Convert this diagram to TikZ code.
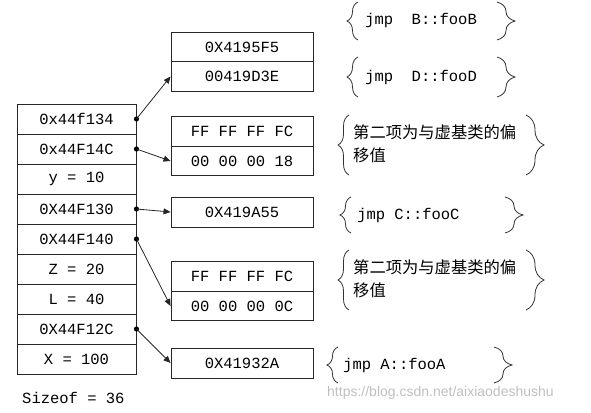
\documentclass[tikz,border=0pt]{standalone}
\usepackage{fontspec}
\setmonofont{Liberation Mono}
\newfontfamily\cjk{Noto Sans CJK SC}
\usetikzlibrary{arrows.meta,decorations.pathreplacing}
\tikzset{
  cellL/.style={draw=black!85, line width=0.9pt, minimum width=119pt, minimum height=30pt, inner sep=0pt, font=\ttfamily\fontsize{15.5}{18}\selectfont},
  cellR/.style={draw=black!85, line width=0.9pt, minimum width=142pt, minimum height=29.5pt, inner sep=0pt, font=\ttfamily\fontsize{15.5}{18}\selectfont},
  note/.style={inner sep=0pt, anchor=west, font=\ttfamily\fontsize{15.5}{18}\selectfont},
  cjknote/.style={inner sep=0pt, anchor=west, align=left, font=\cjk\fontsize{16.3}{23}\selectfont},
  ptr/.style={draw=black!85, line width=0.8pt, -{Triangle[length=7pt,width=6pt]}},
  lbrace/.style={draw=black!80, line width=0.8pt, decorate, decoration={brace, amplitude=11pt}},
  rbrace/.style={draw=black!80, line width=0.8pt, decorate, decoration={brace, amplitude=18pt}}
}
\begin{document}
\begin{tikzpicture}[x=1pt,y=-1pt]
\useasboundingbox (0,0) rectangle (591,412);
% left stack
\node[cellL] (s1) at (76.5,119) {0x44f134};
\node[cellL] (s2) at (76.5,149) {0x44F14C};
\node[cellL] (s3) at (76.5,179) {y = 10};
\node[cellL] (s4) at (76.5,209) {0X44F130};
\node[cellL] (s5) at (76.5,239) {0X44F140};
\node[cellL] (s6) at (76.5,269) {Z = 20};
\node[cellL] (s7) at (76.5,299) {L = 40};
\node[cellL] (s8) at (76.5,329) {0X44F12C};
\node[cellL] (s9) at (76.5,359) {X = 100};
\node[note] (size) at (22,398) {Sizeof = 36};
% right boxes
\node[cellR] (a1) at (242,47) {0X4195F5};
\node[cellR] (a2) at (242,76.5) {00419D3E};
\node[cellR] (b1) at (242,131.5) {FF FF FF FC};
\node[cellR] (b2) at (242,161) {00 00 00 18};
\node[cellR, minimum height=30pt] (c1) at (242,212) {0X419A55};
\node[cellR] (d1) at (242,276.5) {FF FF FF FC};
\node[cellR] (d2) at (242,306) {00 00 00 0C};
\node[cellR, minimum height=30pt] (e1) at (242,363) {0X41932A};
% pointers
\foreach \s in {s1,s2,s4,s5,s8} \fill[black] (\s.east) circle (2.6pt);
\draw[ptr] (s1.east) -- (a2.west);
\draw[ptr] (s2.east) -- (b2.west);
\draw[ptr] (s4.east) -- (c1.west);
\draw[ptr] (s5.east) -- (d2.west);
\draw[ptr] (s8.east) -- (e1.west);
% notes
\node[note] (n1) at (365,20) {jmp\ \ B::fooB};
\node[note] (n2) at (365,77) {jmp\ \ D::fooD};
\node[cjknote] (n3) at (353,143.5) {第二项为与虚基类的偏\\移值};
\node[note] (n4) at (357,215) {jmp C::fooC};
\node[cjknote] (n5) at (353,279) {第二项为与虚基类的偏\\移值};
\node[note] (n6) at (343,365) {jmp A::fooA};
% braces
\draw[lbrace] (358,40) -- (358,2);
\draw[rbrace] (497,2) -- (497,40);
\draw[lbrace] (358,97) -- (358,57);
\draw[rbrace] (497,57) -- (497,97);
\draw[lbrace] (349,175) -- (349,115);
\draw[rbrace] (526,115) -- (526,175);
\draw[lbrace] (351,233) -- (351,197);
\draw[rbrace] (505,197) -- (505,233);
\draw[lbrace] (349,310) -- (349,250);
\draw[rbrace] (526,250) -- (526,310);
\draw[lbrace] (338,383) -- (338,347);
\draw[rbrace] (494,347) -- (494,383);
% watermark
\node[inner sep=0pt, anchor=west, text=black!25, font=\fontspec{Liberation Sans}\fontsize{14}{16}\selectfont] (wm) at (327,393) {https://blog.csdn.net/aixiaodeshushu};
\end{tikzpicture}
\end{document}
